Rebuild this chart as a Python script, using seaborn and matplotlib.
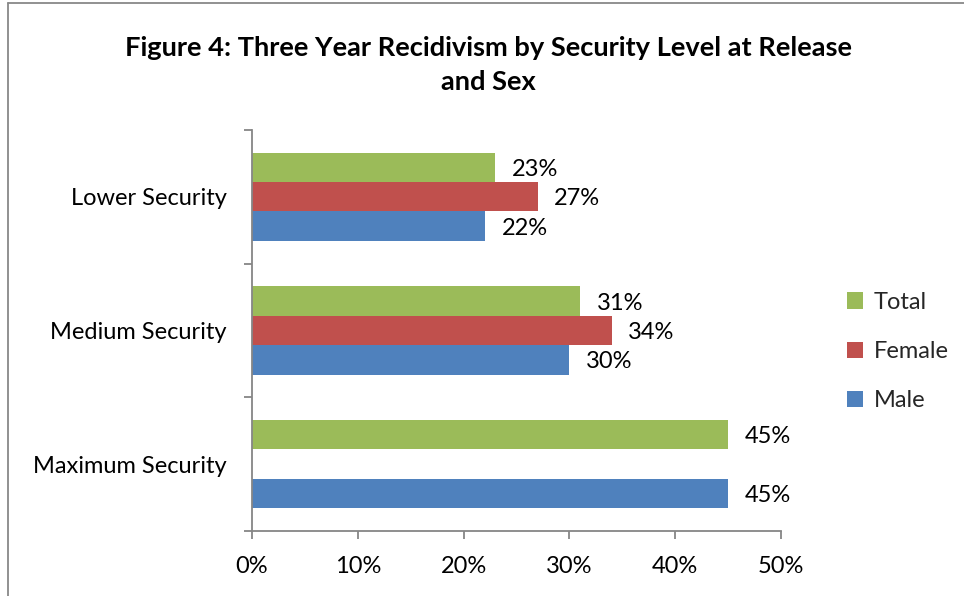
import numpy as np
import pandas as pd
import matplotlib
matplotlib.use("Agg")
import matplotlib.pyplot as plt
from matplotlib.patches import Patch
from matplotlib.lines import Line2D
import seaborn as sns

# Recidivism rates (%) by security level at release
levels = ["Lower Security", "Medium Security", "Maximum Security"]
series = ["Total", "Female", "Male"]
total = [23, 31, 45]
female = [27, 34, np.nan]   # no female releases from maximum security
male = [22, 30, 45]
x_ticks = [0, 10, 20, 30, 40, 50]
x_tick_labels = ["0%", "10%", "20%", "30%", "40%", "50%"]

colors = {"Total": "#9BBB59", "Female": "#C0504D", "Male": "#4F81BD"}

rows = []
for i, lvl in enumerate(levels):
    for name, vals in zip(series, [total, female, male]):
        rows.append({"Level": lvl, "Series": name, "Rate": vals[i]})
df = pd.DataFrame(rows)

sns.set_theme(style="white")
plt.rcParams["font.family"] = ["Lato", "DejaVu Sans"]

FS = 17

fig = plt.figure(figsize=(9.64, 5.96), dpi=100)
ax = fig.add_axes([0.2614, 0.109, 0.5488, 0.673])

plot_df = df.dropna(subset=["Rate"])
sns.barplot(data=plot_df, y="Level", x="Rate", hue="Series",
            order=levels, hue_order=series, palette=colors,
            orient="h", width=0.66, dodge=True, ax=ax, legend=False,
            saturation=1, linewidth=0, errorbar=None)

# value labels beside each bar
bar_w = 0.66 / 3
for i, lvl in enumerate(levels):
    for j, (name, vals) in enumerate(zip(series, [total, female, male])):
        v = vals[i]
        if np.isnan(v):
            continue
        yc = i - 0.66 / 2 + bar_w * (j + 0.5)
        ax.annotate(f"{v:.0f}%", xy=(v, yc), xytext=(12, -1.5),
                    textcoords="offset points", ha="left", va="center",
                    fontsize=FS, color="black")

ax.set_xlim(0, 50)
ax.set_ylim(2.5, -0.5)
ax.set_xticks(x_ticks)
ax.set_xticklabels(x_tick_labels, fontsize=FS, color="black")

# category boundaries as tick marks, labels centred on each band
ax.set_yticks([-0.5, 0.5, 1.5, 2.5])
ax.set_yticklabels([])
ax.set_yticks(range(len(levels)), minor=True)
ax.set_yticklabels(levels, minor=True, fontsize=FS, color="black")
ax.tick_params(axis="y", which="minor", length=0, pad=18)
ax.tick_params(axis="y", which="major", length=6, width=1.3,
               color="#868686", direction="out", left=True)
ax.tick_params(axis="x", length=6, width=1.3, color="#868686",
               direction="out", bottom=True, pad=12)

ax.set_xlabel("")
ax.set_ylabel("")
for s in ["top", "right"]:
    ax.spines[s].set_visible(False)
for s in ["left", "bottom"]:
    ax.spines[s].set_color("#868686")
    ax.spines[s].set_linewidth(1.3)

handles = [Patch(facecolor=colors[s], edgecolor="none") for s in series]
fig.legend(handles, series, loc="center left",
           bbox_to_anchor=(0.866, 0.41), frameon=False, fontsize=FS,
           handlelength=0.7, handleheight=0.7, handletextpad=0.45,
           labelspacing=1.2, borderpad=0)

fig.text(0.507, 0.891, "Figure 4: Three Year Recidivism by Security Level at Release\nand Sex",
         ha="center", va="center", fontsize=19.6, fontweight="bold",
         linespacing=1.5, color="black")

# chart-area border (top and left edges visible)
fig.add_artist(Line2D([0.0085, 0.0085], [0.0, 0.995], transform=fig.transFigure,
                      color="#888888", linewidth=1.3))
fig.add_artist(Line2D([0.0085, 1.0], [0.995, 0.995], transform=fig.transFigure,
                      color="#888888", linewidth=1.3))

fig.savefig("out.png", dpi=100)
